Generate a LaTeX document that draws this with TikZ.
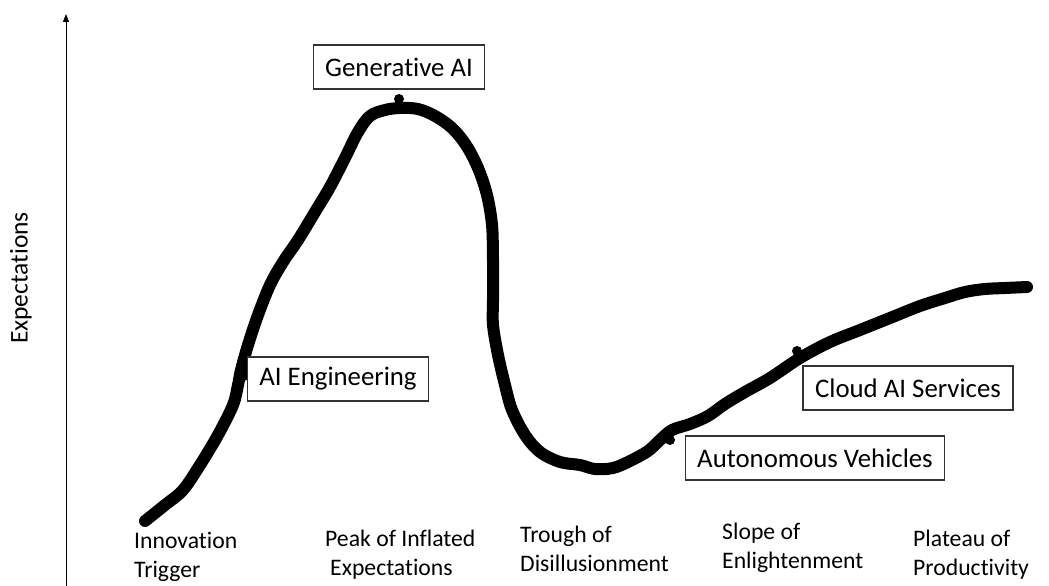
\documentclass[tikz,border=0pt]{standalone}
\usepackage{fontspec}
\setmainfont{Carlito}[Ligatures={NoCommon,NoRequired,NoContextual,NoRare},RawFeature={-liga;-clig;-calt;-dlig}]
\usetikzlibrary{arrows.meta}
\begin{document}
\begin{tikzpicture}[x=1pt,y=-1pt,
  tagbox/.style={draw=black!80,line width=1.3pt,fill=white,inner xsep=12pt,
    minimum height=44pt,font=\fontsize{26.8}{32}\selectfont},
  phase/.style={anchor=north west,inner sep=0pt,align=left,
    font=\fontsize{23.7}{29}\selectfont},
  hype/.style={line width=12pt,line cap=round,line join=round},
  pin/.style={fill=black,circle,inner sep=0pt,minimum size=10pt}]
\useasboundingbox (0,0) rectangle (1049,586);

% axis
\coordinate (axbot) at (66,586);
\coordinate (axtop) at (66,14);
\draw[line width=0.9pt,-{Triangle[width=6pt,length=8pt]}] (axbot) -- (axtop);
\node[rotate=90,font=\fontsize{25.5}{30}\selectfont] (ylab) at (21,278) {Expectations};

% hype curve
\draw[hype] plot[smooth,tension=0.55] coordinates {
 (145,521) (165,505) (183,490) (200,465) (218,435) (233,405) (238,385)
 (241,370) (248,345) (258,315) (270,285) (283,262) (298,240) (315,212)
 (330,187) (345,158) (358,132) (370,116) (385,110) (400,108) (418,109)
 (435,116) (452,128) (466,145) (478,168) (487,195) (492,225) (493,260)
 (493,300) (493,325) (498,355) (505,385) (512,410) (525,435) (540,452)
 (560,462) (580,465) (595,469) (613,468) (630,461) (648,451) (660,440)
 (672,430) (690,424) (708,416) (725,404) (745,392) (770,378) (800,358)
 (830,342) (860,330) (890,318) (920,306) (945,298) (965,292) (985,289)
 (1005,288) (1027,287)};

% markers on the curve
\node[pin] (pgen) at (399,99) {};
\node[pin] (peng) at (244,376) {};
\node[pin] (paut) at (670,440) {};
\node[pin] (pcld) at (797,351) {};

% technology tags
\node[tagbox] (gen) at (399,67) {Generative AI};
\node[tagbox] (eng) at (338,379) {AI Engineering};
\node[tagbox] (cld) at (908,388) {Cloud AI Services};
\node[tagbox] (aut) at (815,458) {Autonomous Vehicles};

% phases
\node[phase] (p1) at (134,532) {Innovation\\Trigger};
\node[phase] (p2) at (325,530) {Peak of Inflated\\\hspace*{5pt}Expectations};
\node[phase] (p3) at (520,526) {Trough of\\Disillusionment};
\node[phase] (p4) at (722,523) {Slope of\\Enlightenment};
\node[phase] (p5) at (913,530) {Plateau of\\Productivity};
\end{tikzpicture}
\end{document}
